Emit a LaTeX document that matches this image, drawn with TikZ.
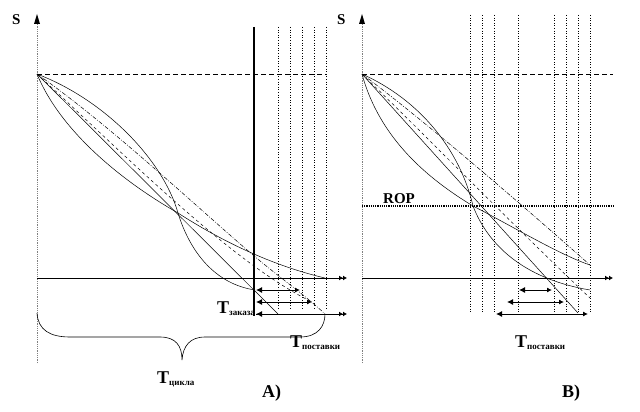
\documentclass[tikz,border=0pt]{standalone}
\usepackage{fontspec}
\setmainfont{Liberation Serif}
\usetikzlibrary{arrows.meta}
\newcommand{\Tsub}[1]{T\raisebox{-0.3ex}{\fontsize{9}{9}\selectfont #1}}
\tikzset{
  lbl/.style={font=\bfseries\fontsize{15}{15}\selectfont, anchor=base west, inner sep=0pt},
  big/.style={font=\bfseries\fontsize{18}{18}\selectfont, anchor=base west, inner sep=0pt},
  yaxis/.style={gray, densely dotted, line width=0.8pt},
  xaxis/.style={line width=0.8pt, -{Latex[length=4pt,width=5pt]Latex[length=4pt,width=5pt]}},
  span/.style={line width=0.9pt, {Latex[length=6pt,width=6pt]}-{Latex[length=5pt,width=5pt]}},
  grid/.style={dotted, line width=0.6pt},
  level/.style={dashed, dash pattern=on 5pt off 3pt, line width=0.6pt},
  curve/.style={line width=0.5pt},
  dsh/.style={dash pattern=on 3pt off 3pt},
  dshdot/.style={dash pattern=on 4pt off 1.5pt on 0.8pt off 1.5pt}
}
\begin{document}
\begin{tikzpicture}[x=1pt, y=-1pt]
  \useasboundingbox (0,0) rectangle (640,412);
  % labels
  \draw
    (12,25) node[lbl] (s1) {S}
    (337,25) node[lbl] (s2) {S}
    (383,203) node[lbl] (rop) {ROP}
    (217,313) node[big] (tzak) {\Tsub{заказа}}
    (290,347) node[big] (tpost1) {\Tsub{поставки}}
    (515,347) node[big] (tpost2) {\Tsub{поставки}}
    (157,383) node[big] (tcyc) {\Tsub{цикла}}
    (262,397) node[big] (pa) {A)}
    (562,397) node[big] (pb) {B)};
  % start points
  \coordinate (p1) at (37,74);
  \coordinate (p2) at (362,74);
  \coordinate (x1) at (178,213);
  \coordinate (x2) at (473,206);
  % axes
  \draw[yaxis] (37,363) -- (37,22);
  \draw[yaxis] (362,363) -- (362,22);
  \fill (37,14) -- (34,24) -- (40,24) -- cycle;
  \fill (362,14) -- (359,24) -- (365,24) -- cycle;
  \draw[xaxis] (37,278) -- (347,278);
  \draw[xaxis] (362,278) -- (613,278);
  \draw[level] (p1) -- (326,74);
  \draw[level] (p2) -- (613,74);
  \draw[line width=1.2pt, densely dotted] (362,206) -- (613,206);
  % order moment and delivery times
  \draw[line width=1.6pt] (254,27) -- (254,316);
  \foreach \x in {278,290,302,314,326}
    \draw[grid] (\x,27) -- (\x,310);
  \foreach \x in {470,482,494,518,554,566,578,590}
    \draw[grid] (\x,15) -- (\x,312);
  % consumption curves A
  \begin{scope}[curve]
    \draw (p1) .. controls (105,100) and (163,160) .. (x1) .. controls (190,252) and (215,284) .. (255,290);
    \draw (p1) .. controls (60,130) and (120,180) .. (x1) .. controls (220,240) and (270,265) .. (325,278);
    \draw (p1) -- (278,314);
    \draw[dsh] (p1) .. controls (120,150) and (230,262) .. (312,302);
    \draw[dshdot] (p1) .. controls (110,125) and (200,210) .. (253,255) .. controls (280,278) and (305,295) .. (325,314);
  \end{scope}
  % consumption curves B
  \begin{scope}[curve]
    \draw (p2) .. controls (420,100) and (460,150) .. (x2) .. controls (490,250) and (530,280) .. (590,290);
    \draw (p2) .. controls (380,140) and (430,180) .. (x2) .. controls (510,225) and (560,255) .. (590,265);
    \draw (p2) -- (578,313);
    \draw[dsh] (p2) .. controls (430,140) and (520,232) .. (590,298);
    \draw[dshdot] (p2) .. controls (430,125) and (530,212) .. (590,265);
  \end{scope}
  % intervals
  \draw[span] (256,290) -- (300,290);
  \draw[span] (256,302) -- (312,302);
  \draw[xaxis] (256,314) -- (347,314);
  \draw[-{Latex[length=6pt,width=6pt]}, line width=0.9pt] (300,314) -- (256,314);
  \draw[span] (519,290) -- (552,290);
  \draw[span] (507,302) -- (564,302);
  \draw[span] (496,314) -- (588,314);
  % cycle brace
  \draw[line width=0.6pt] (37,313) .. controls (38,330) and (50,337) .. (70,337)
    -- (160,337) .. controls (176,337) and (182,346) .. (182,360)
    .. controls (183,346) and (190,337) .. (205,337)
    -- (300,337) .. controls (318,337) and (325,326) .. (325,314);
\end{tikzpicture}
\end{document}
